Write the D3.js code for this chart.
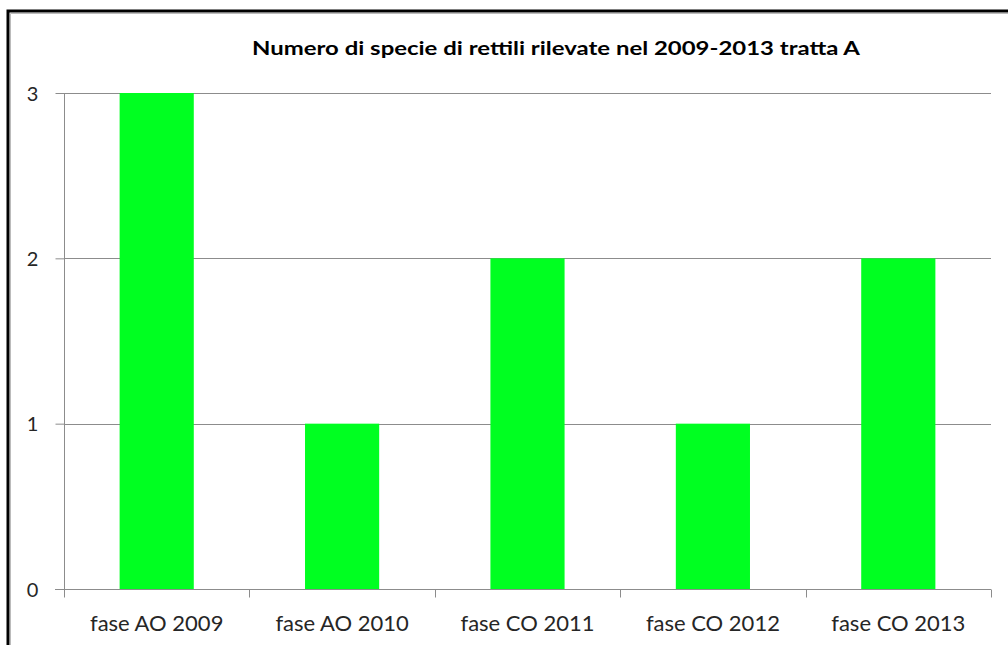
<!DOCTYPE html>
<html>
<head>
<meta charset="utf-8">
<script src="https://cdn.jsdelivr.net/npm/d3@7"></script>
<style>
  body { margin: 0; background: #fff; }
  text { font-family: Lato, "Open Sans", sans-serif; fill: #262626; }
</style>
</head>
<body>
<script>
// data
var title = "Numero di specie di rettili rilevate nel 2009-2013 tratta A";
var categories = ["fase AO 2009", "fase AO 2010", "fase CO 2011", "fase CO 2012", "fase CO 2013"];
var values = [3, 1, 2, 1, 2];
var yTicks = [0, 1, 2, 3];

var W = 1008, H = 645;
var margin = {top: 93, right: 17, bottom: 56, left: 64};
var width = W - margin.left - margin.right,
    height = H - margin.top - margin.bottom;

var svg = d3.select("body").append("svg")
    .attr("width", W)
    .attr("height", H);

// frame (left + top, as in the picture)
svg.append("path")
    .attr("d", "M8,645 V11 H1008")
    .attr("fill", "none")
    .attr("stroke", "#000")
    .attr("stroke-width", 3);
svg.append("path")
    .attr("d", "M10.5,645 V13.5 H1008")
    .attr("fill", "none")
    .attr("stroke", "#bbb")
    .attr("stroke-width", 1);

svg.append("text")
    .attr("x", 556)
    .attr("y", 55)
    .attr("text-anchor", "middle")
    .style("font-weight", "bold")
    .style("font-size", "18px")
    .style("fill", "#000")
    .attr("textLength", 608)
    .attr("lengthAdjust", "spacingAndGlyphs")
    .text(title);

var chart = svg.append("g")
    .attr("transform", "translate(" + margin.left + "," + margin.top + ")");

var x = d3.scaleBand()
    .domain(categories)
    .range([0, width])
    .paddingInner(0.6)
    .paddingOuter(0.3);
var xb = d3.scaleBand().domain(categories).range([0, width]);
var y = d3.scaleLinear()
    .domain([0, 3])
    .range([height, 0]);

// gridlines
chart.selectAll(".grid")
    .data(yTicks.filter(function (d) { return d > 0; }))
    .enter()
    .append("line")
    .attr("x1", 0)
    .attr("x2", width)
    .attr("y1", function (d) { return Math.round(y(d)) + 0.5; })
    .attr("y2", function (d) { return Math.round(y(d)) + 0.5; })
    .attr("stroke", "#8c8c8c");

// bars
chart.selectAll(".bar")
    .data(values)
    .enter()
    .append("rect")
    .attr("x", function (d, i) { return x(categories[i]); })
    .attr("width", x.bandwidth())
    .attr("y", function (d) { return y(d); })
    .attr("height", function (d) { return height - y(d); })
    .attr("fill", "#00ff21");

// y axis
var yAxis = d3.axisLeft(y).tickValues(yTicks).tickSize(9).tickPadding(20).tickFormat(d3.format("d"));
var gy = chart.append("g").attr("transform", "translate(0.5,0)").call(yAxis);
gy.select(".domain").attr("d", "M0," + (height + 8) + "V0").attr("stroke", "#8c8c8c");
gy.selectAll(".tick line").attr("stroke", "#8c8c8c");
gy.selectAll(".tick text").style("font-size", "20px").attr("text-anchor", "middle").attr("x", -32).attr("dy", "0.36em");

// x axis: ticks at category boundaries
var gx = chart.append("g").attr("transform", "translate(0," + (Math.round(height) + 0.5) + ")");
gx.append("line")
    .attr("x1", -9).attr("x2", width)
    .attr("stroke", "#8c8c8c");
gx.selectAll(".bt")
    .data(categories.map(function (c) { return xb(c); }).concat([width]))
    .enter()
    .append("line")
    .attr("x1", function (d) { return Math.round(d) + 0.5; })
    .attr("x2", function (d) { return Math.round(d) + 0.5; })
    .attr("y1", 0).attr("y2", 8)
    .attr("stroke", "#8c8c8c");
gx.selectAll(".lbl")
    .data(categories)
    .enter()
    .append("text")
    .attr("x", function (d) { return xb(d) + xb.bandwidth() / 2; })
    .attr("y", 41)
    .attr("text-anchor", "middle")
    .style("font-size", "22px")
    .text(function (d) { return d; });
</script>
</body>
</html>
